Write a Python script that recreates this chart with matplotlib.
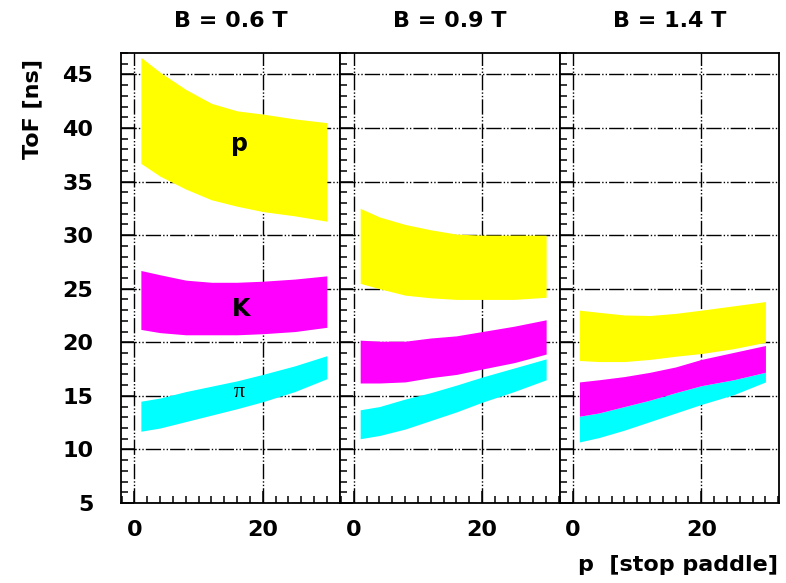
import numpy as np
import matplotlib
matplotlib.use("Agg")
import matplotlib.pyplot as plt
from matplotlib.ticker import MultipleLocator

# stop paddle numbers where the band edges were read
paddle = [1, 4, 8, 12, 16, 20, 25, 30]
fields = ["B = 0.6 T", "B = 0.9 T", "B = 1.4 T"]

# ToF band limits [ns], one row per field
proton_hi = [[46.6, 45.2, 43.6, 42.3, 41.6, 41.3, 40.85, 40.5],
             [32.5, 31.7, 31.0, 30.5, 30.1, 30.0, 30.0, 30.0],
             [23.0, 22.8, 22.55, 22.5, 22.7, 23.0, 23.4, 23.8]]
proton_lo = [[36.7, 35.5, 34.3, 33.3, 32.7, 32.2, 31.8, 31.3],
             [25.5, 25.0, 24.4, 24.15, 24.0, 24.0, 24.0, 24.2],
             [18.3, 18.2, 18.2, 18.4, 18.7, 18.95, 19.4, 20.0]]
kaon_hi = [[26.7, 26.3, 25.8, 25.6, 25.6, 25.7, 25.9, 26.2],
           [20.2, 20.1, 20.1, 20.4, 20.6, 21.0, 21.5, 22.1],
           [16.3, 16.5, 16.8, 17.2, 17.7, 18.4, 19.05, 19.7]]
kaon_lo = [[21.2, 20.9, 20.7, 20.7, 20.7, 20.8, 21.0, 21.4],
           [16.2, 16.2, 16.3, 16.7, 17.0, 17.5, 18.1, 18.9],
           [13.1, 13.4, 14.0, 14.6, 15.3, 15.95, 16.5, 17.2]]
pion_hi = [[14.5, 14.8, 15.4, 15.9, 16.4, 17.0, 17.8, 18.75],
           [13.7, 14.0, 14.7, 15.3, 16.0, 16.75, 17.6, 18.45],
           [13.1, 13.4, 14.0, 14.6, 15.3, 15.95, 16.5, 17.2]]
pion_lo = [[11.7, 12.0, 12.6, 13.2, 13.8, 14.45, 15.4, 16.6],
           [11.0, 11.3, 11.9, 12.7, 13.5, 14.4, 15.4, 16.5],
           [10.7, 11.1, 11.8, 12.6, 13.4, 14.2, 15.1, 16.3]]

plt.rcParams['font.family'] = ['DejaVu Sans']
plt.rcParams['font.weight'] = 'bold'

W, H = 786, 583
fig = plt.figure(figsize=(W / 100, H / 100), dpi=100)

left, pw = 121 / W, 219.3 / W
bottom, ph = 1 - 503 / H, (503 - 53) / H
grid_ls = (0, (11, 1.5, 1, 1.5, 1, 1.5))

for i, name in enumerate(fields):
    ax = fig.add_axes([left + i * pw, bottom, pw, ph])
    ax.fill_between(paddle, pion_lo[i], pion_hi[i], color='#00ffff', lw=0)
    ax.fill_between(paddle, kaon_lo[i], kaon_hi[i], color='#ff00ff', lw=0)
    ax.fill_between(paddle, proton_lo[i], proton_hi[i], color='#ffff00', lw=0)

    ax.set_xlim(-2.1, 32.1)
    ax.set_ylim(5, 47)
    ax.set_xticks([0, 20])
    ax.set_yticks(range(5, 50, 5))
    ax.xaxis.set_minor_locator(MultipleLocator(2))
    ax.yaxis.set_minor_locator(MultipleLocator(1))
    ax.set_axisbelow(True)
    ax.grid(True, which='major', color='black', lw=1.0, linestyle=grid_ls)

    ax.tick_params(which='both', direction='in', left=True, bottom=True,
                   top=False, right=False, width=1.1, labelsize=16)
    ax.tick_params(which='major', length=9)
    ax.tick_params(which='minor', length=5)
    ax.tick_params(axis='y', pad=20)
    ax.tick_params(axis='x', pad=12)
    if i > 0:
        ax.tick_params(labelleft=False)
    for s in ax.spines.values():
        s.set_linewidth(1.3)
    for lab in ax.get_xticklabels() + ax.get_yticklabels():
        lab.set_fontweight('bold')

    fig.text(left + (i + 0.5) * pw, 1 - 21 / H, name, ha='center', va='center',
             fontsize=16, fontweight='bold')

    if i == 0:
        ax.text(16.4, 37.9, "p", ha='center', va='baseline', fontsize=17, fontweight='bold')
        ax.text(16.7, 22.45, "K", ha='center', va='baseline', fontsize=17, fontweight='bold')
        ax.text(16.4, 14.9, "π", ha='center', va='baseline', fontsize=16,
                fontweight='normal', family=['Liberation Serif', 'DejaVu Serif'])

fig.text(32 / W, 1 - 109 / H, "ToF [ns]", rotation=90, ha='center', va='center',
         fontsize=16, fontweight='bold')
fig.text(778 / W, 1 - 565 / H, "p  [stop paddle]", ha='right', va='center',
         fontsize=16, fontweight='bold')

fig.savefig("out.png", dpi=100)
